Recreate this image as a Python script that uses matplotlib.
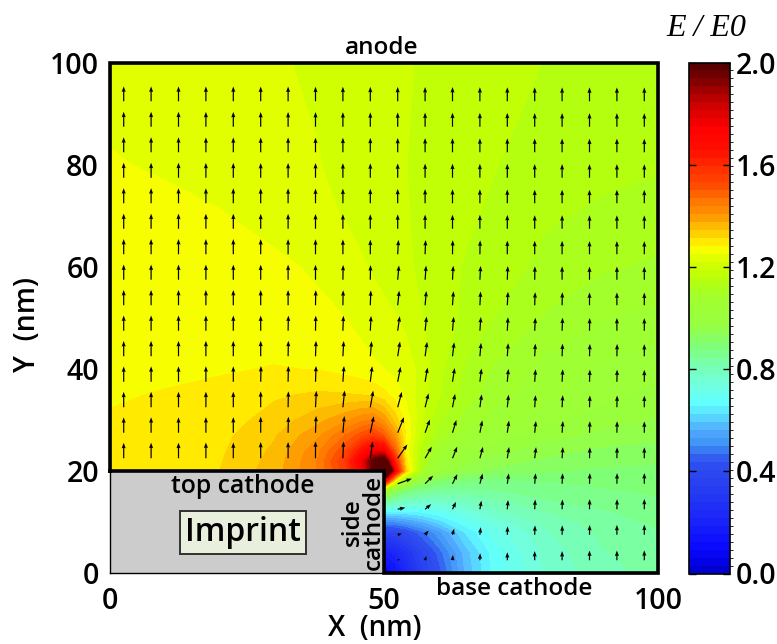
import numpy as np
import matplotlib
matplotlib.use("Agg")
import matplotlib.pyplot as plt
from matplotlib.cm import ScalarMappable
from matplotlib.colors import BoundaryNorm, LinearSegmentedColormap, Normalize
from matplotlib.patches import Rectangle

plt.rcParams["font.family"] = ["Open Sans", "DejaVu Sans"]

nan = np.nan

# E/E0, finer grid around the imprint corner
grid_x = [0, 10, 20, 30, 38, 43, 46, 48, 50, 52, 54, 57, 60, 65, 70, 80, 90, 100]
grid_y = [0, 4, 8, 10, 12, 14, 16, 18, 20, 22, 24, 27, 30, 35, 40, 50, 60, 70, 80, 100]
field = [
    [nan, nan, nan, nan, nan, nan, nan, nan, .02, .12, .20, .33, .42, .57, .665, .76, .80, .825],
    [nan, nan, nan, nan, nan, nan, nan, nan, .17, .20, .27, .37, .45, .58, .67, .765, .81, .83],
    [nan, nan, nan, nan, nan, nan, nan, nan, .36, .37, .40, .46, .52, .63, .70, .78, .82, .84],
    [nan, nan, nan, nan, nan, nan, nan, nan, .50, .50, .52, .56, .61, .68, .73, .795, .83, .85],
    [nan, nan, nan, nan, nan, nan, nan, nan, .66, .65, .65, .66, .68, .73, .77, .815, .84, .86],
    [nan, nan, nan, nan, nan, nan, nan, nan, .85, .80, .78, .76, .76, .78, .80, .84, .86, .87],
    [nan, nan, nan, nan, nan, nan, nan, nan, 1.05, .93, .88, .85, .83, .83, .84, .86, .87, .88],
    [nan, nan, nan, nan, nan, nan, nan, nan, 1.75, 1.25, 1.05, .95, .90, .88, .87, .875, .885, .89],
    [1.285, 1.295, 1.3125, 1.36, 1.44, 1.55, 1.72, 2.0, 2.6, 1.75, 1.33, 1.10, 1.00, .95, .93, .91, .90, .90],
    [1.285, 1.295, 1.31, 1.355, 1.44, 1.57, 1.76, 2.0, 2.1, 1.62, 1.30, 1.12, 1.04, .98, .95, .93, .915, .91],
    [1.285, 1.293, 1.307, 1.35, 1.43, 1.53, 1.66, 1.75, 1.75, 1.50, 1.27, 1.14, 1.07, 1.01, .98, .95, .93, .925],
    [1.285, 1.29, 1.303, 1.34, 1.40, 1.47, 1.52, 1.55, 1.50, 1.40, 1.28, 1.17, 1.11, 1.05, 1.02, .98, .96, .945],
    [1.284, 1.288, 1.297, 1.325, 1.365, 1.40, 1.43, 1.44, 1.40, 1.33, 1.27, 1.19, 1.13, 1.08, 1.05, 1.01, .98, .965],
    [1.278, 1.283, 1.29, 1.308, 1.317, 1.315, 1.31, 1.305, 1.29, 1.27, 1.245, 1.20, 1.16, 1.11, 1.075, 1.04, 1.01, .99],
    [1.272, 1.275, 1.278, 1.283, 1.28, 1.27, 1.262, 1.255, 1.25, 1.24, 1.23, 1.21, 1.165, 1.12, 1.09, 1.05, 1.025, 1.01],
    [1.27, 1.27, 1.268, 1.262, 1.256, 1.25, 1.24, 1.234, 1.228, 1.221, 1.213, 1.188, 1.172, 1.148, 1.125, 1.088, 1.063, 1.052],
    [1.265, 1.265, 1.26, 1.256, 1.246, 1.232, 1.222, 1.215, 1.207, 1.198, 1.192, 1.182, 1.17, 1.153, 1.137, 1.117, 1.098, 1.088],
    [1.26, 1.257, 1.252, 1.24, 1.226, 1.217, 1.21, 1.206, 1.20, 1.195, 1.19, 1.18, 1.17, 1.162, 1.15, 1.128, 1.12, 1.113],
    [1.252, 1.247, 1.238, 1.228, 1.22, 1.21, 1.205, 1.20, 1.195, 1.19, 1.188, 1.18, 1.172, 1.16, 1.158, 1.14, 1.132, 1.128],
    [1.24, 1.235, 1.23, 1.222, 1.214, 1.207, 1.203, 1.20, 1.197, 1.194, 1.19, 1.185, 1.18, 1.172, 1.165, 1.155, 1.152, 1.15],
]

# arrows: tilt from vertical in degrees, positive leaning right
arrow_x = [2.5, 7.5, 12.5, 17.5, 22.5, 27.5, 32.5, 37.5, 42.5, 47.5,
           52.5, 57.5, 62.5, 67.5, 72.5, 77.5, 82.5, 87.5, 92.5, 97.5]
arrow_y = [2.5, 7.5, 12.5, 17.5, 22.5, 27.5, 32.5, 37.5, 42.5, 47.5,
           52.5, 57.5, 62.5, 67.5, 72.5, 77.5, 82.5, 87.5, 92.5]
arrow_tilt = [
    [nan, nan, nan, nan, nan, nan, nan, nan, nan, nan, 60, 15, 5, 2, 0, 0, 0, 0, 0, 0],
    [nan, nan, nan, nan, nan, nan, nan, nan, nan, nan, 75, 40, 15, 6, 2, 2, 1, 1, 0, 0],
    [nan, nan, nan, nan, nan, nan, nan, nan, nan, nan, 78, 50, 25, 10, 5, 3, 2, 1, 1, 0],
    [nan, nan, nan, nan, nan, nan, nan, nan, nan, nan, 70, 45, 27, 15, 8, 5, 3, 2, 1, 0],
    [0, 0, 0, 0, 0, 0, 0, 0, 2, 8, 35, 30, 22, 15, 9, 7, 4, 2, 1, 0],
    [0, 0, 0, 0, 0, 0, 1, 2, 5, 12, 22, 20, 17, 11, 8, 6, 4, 2, 1, 0],
    [0, 0, 0, 0, 0, 0, 1, 3, 6, 10, 15, 14, 11, 8, 6, 4, 3, 2, 1, 0],
    [0, 0, 0, 0, 0, 1, 1, 2, 4, 7, 11, 10, 9, 7, 5, 4, 3, 2, 1, 0],
    [0, 0, 0, 0, 0, 0, 1, 2, 3, 5, 9, 8, 7, 5, 4, 3, 2, 2, 1, 0],
    [0, 0, 0, 0, 0, 0, 1, 1, 2, 3, 8, 6, 5, 4, 3, 3, 2, 1, 0, 0],
    [0, 0, 0, 0, 0, 0, 0, 1, 1, 2, 6, 5, 4, 3, 3, 2, 1, 0, 0, 0],
    [0, 0, 0, 0, 0, 0, 0, 0, 1, 1, 5, 4, 3, 3, 2, 1, 0, 0, 0, 0],
    [0, 0, 0, 0, 0, 0, 0, 0, 0, 0, 3, 2, 1, 1, 0, 0, 0, 0, 0, 0],
    [0] * 20,
    [0] * 20,
    [0] * 20,
    [0] * 20,
    [0] * 20,
    [0] * 20,
]

# colours
bar_values = [0, .01, .08, .21, .34, .43, .50, .55, .60, .66, .73, .81, .90, .97, 1.07, 1.137,
              1.2, 1.24, 1.266, 1.3, 1.33, 1.365, 1.4, 1.46, 1.53, 1.59, 1.655, 1.75, 1.85, 1.92, 1.98, 2.0]
bar_colors = ["#0000d0", "#0000d8", "#0808ff", "#1c28f8", "#2840f0", "#3050f0", "#3f95f5", "#50a8ff",
              "#58d0ff", "#60ffff", "#70ffe0", "#78ffb0", "#80ff70", "#98ff40", "#a0ff30", "#b0ff10",
              "#ccff00", "#e4ff00", "#f6ff00", "#ffea00", "#ffd000", "#fcb800", "#ff9800", "#ff7800",
              "#ff4800", "#ff3000", "#ff1000", "#ff0000", "#c80000", "#900000", "#600000", "#580000"]

x_ticks = [0, 50, 100]
y_ticks = [0, 20, 40, 60, 80, 100]
bar_ticks = [0, 0.4, 0.8, 1.2, 1.6, 2.0]

W, H = 777, 644
cmap = LinearSegmentedColormap.from_list("efield", [(v / 2.0, c) for v, c in zip(bar_values, bar_colors)], N=512)
cmap.set_over("#580000")
levels = np.linspace(0, 2, 65)

fig = plt.figure(figsize=(W / 100, H / 100), dpi=100)
ax = fig.add_axes([110 / W, 1 - 573 / H, 548 / W, 510 / H])
cax = fig.add_axes([689 / W, 1 - 573.5 / H, 41 / W, 511 / H])

values = np.ma.masked_invalid(np.array(field))
ax.contourf(grid_x, grid_y, values, levels=levels, cmap=cmap, norm=Normalize(0, 2), extend="max")

# imprint
ax.add_patch(Rectangle((0, 0), 50, 20, facecolor="#cccccc", edgecolor="none", zorder=2))

# arrow length follows the field at the closest grid node
tilt = np.ma.masked_invalid(np.array(arrow_tilt, dtype=float))
ix = [np.argmin(np.abs(np.array(grid_x) - a)) for a in arrow_x]
iy = [np.argmin(np.abs(np.array(grid_y) - a)) for a in arrow_y]
size = np.minimum(np.nan_to_num(np.array(field)[np.ix_(iy, ix)], nan=1.0), 1.4)
ax.quiver(arrow_x, arrow_y, size * np.sin(np.radians(tilt)), size * np.cos(np.radians(tilt)),
          angles="uv", scale_units="dots", scale=1 / 12, units="dots", width=1.2,
          headwidth=3.4, headlength=4.6, headaxislength=4.2, pivot="tail", color="k", zorder=3)

ax.set_xlim(0, 100)
ax.set_ylim(0, 100)
ax.set_xticks(x_ticks)
ax.set_yticks(y_ticks)
ax.tick_params(length=0, labelsize=20.5, pad=8)
ax.tick_params(axis="x", pad=10)
for lab in ax.get_xticklabels() + ax.get_yticklabels():
    lab.set_fontweight("semibold")
for s in ax.spines.values():
    s.set_linewidth(1.0)
    s.set_zorder(4)

# thick outline of the open region
ax.plot([0, 0, 100, 100, 50, 50, 0], [20, 100, 100, 0, 0, 20, 20], color="k", lw=2.6,
        clip_on=False, zorder=5, solid_joinstyle="miter")

ax.set_xlabel("X  (nm)", fontsize=20, labelpad=-1, fontweight="semibold")
ax.set_ylabel("Y  (nm)", fontsize=20.5, labelpad=6, fontweight="semibold")
ax.xaxis.label.set_x(0.484)
ax.yaxis.label.set_y(0.488)

ax.text(49.6, 103, "anode", ha="center", va="center", fontsize=17.5, fontweight="semibold", clip_on=False)
ax.text(24.3, 17, "top cathode", ha="center", va="center", fontsize=17.8, fontweight="semibold", zorder=6)
ax.text(24.3, 8, "Imprint", ha="center", va="center", fontsize=23, fontweight="semibold", zorder=6,
        bbox=dict(boxstyle="square,pad=0.16", facecolor="#e8efdc", edgecolor="#303030", linewidth=1.4))
ax.text(46.2, 10, "side\ncathode", ha="center", va="center", rotation=90, fontsize=17.5, linespacing=0.8,
        multialignment="center", fontweight="semibold", zorder=6)
ax.text(73.7, -3.1, "base cathode", ha="center", va="center", fontsize=17.5, fontweight="semibold", clip_on=False)

# colour bar
sm = ScalarMappable(norm=BoundaryNorm(levels, cmap.N), cmap=cmap)
cbar = fig.colorbar(sm, cax=cax, ticks=bar_ticks, spacing="proportional", format="%.1f")
cbar.ax.tick_params(direction="in", length=5, width=1, left=True, right=True, labelsize=20.5, pad=4)
for lab in cbar.ax.get_yticklabels():
    lab.set_fontweight("semibold")
cbar.outline.set_linewidth(1.2)

fig.text(706 / W, 1 - 28 / H, "E / E0", ha="center", va="center", fontsize=23,
         family="Liberation Serif", style="italic")

fig.savefig("out.png", dpi=100)
